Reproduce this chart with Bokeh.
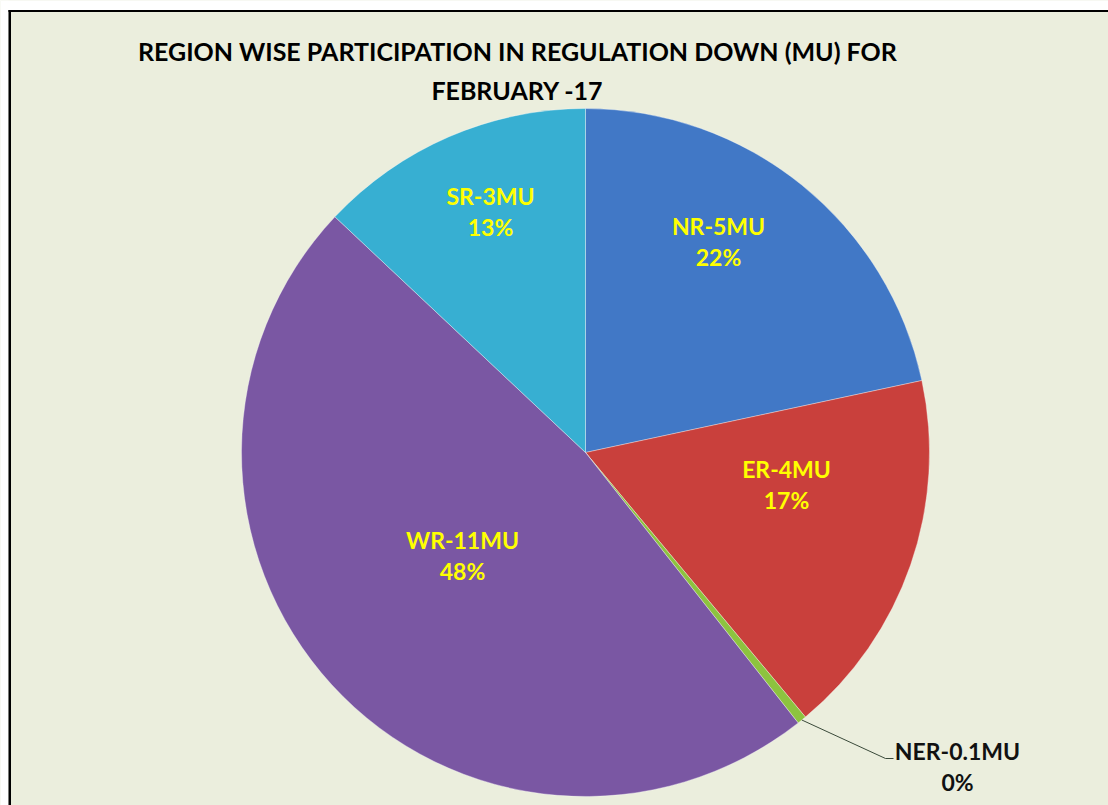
import numpy as np
from bokeh.plotting import figure
from bokeh.models import Range1d, BoxAnnotation, ColumnDataSource
from bokeh.core.properties import value
from bokeh.embed import file_html
from bokeh.resources import INLINE

# ---- data ----
regions = ["NR", "ER", "NER", "WR", "SR"]
mu_values = [5.0, 4.0, 0.1, 11.0, 3.0]
mu_labels = ["5", "4", "0.1", "11", "3"]
colors = ["#4178C6", "#C9403C", "#8DC33F", "#7A57A3", "#37AFD2"]
title_lines = ["REGION WISE PARTICIPATION IN REGULATION DOWN (MU) FOR", "FEBRUARY -17"]

# ---- layout ----
W, H = 1108, 805
BG = "#EBEEDD"
FONT = "Lato"
cx, cy, R = 585, H - 452, 344
# label placement (pixel offsets from pie centre) - layout only
label_dx = [133, 201, 372, -123, -95]
label_dy = [-212, 31, 313, 102, -242]

p = figure(width=W, height=H, output_backend="svg", toolbar_location=None,
           x_range=Range1d(0, W), y_range=Range1d(0, H), min_border=0)
p.axis.visible = False
p.grid.visible = False
p.outline_line_color = None
p.background_fill_color = BG
p.border_fill_color = BG

# white page strips outside the chart area, and the top/left frame lines
p.add_layout(BoxAnnotation(bottom=H - 9.5, fill_color="white", fill_alpha=1,
                           line_color=None, level="underlay"))
p.add_layout(BoxAnnotation(right=8, fill_color="white", fill_alpha=1,
                           line_color=None, level="underlay"))
p.add_layout(BoxAnnotation(left=8, top=H - 9.5, bottom=H - 11.5, fill_color="black",
                           fill_alpha=1, line_color=None, level="underlay"))
p.add_layout(BoxAnnotation(left=8, right=10.5, top=H - 9.5, fill_color="black",
                           fill_alpha=1, line_color=None, level="underlay"))

vals = np.array(mu_values)
frac = vals / vals.sum()
cum = np.concatenate([[0], np.cumsum(frac)])
start = np.pi / 2 - cum[:-1] * 2 * np.pi
end = np.pi / 2 - cum[1:] * 2 * np.pi
src = ColumnDataSource(dict(start=start, end=end, color=colors,
                            x=[cx] * len(vals), y=[cy] * len(vals)))
p.wedge(x="x", y="y", radius=R, start_angle="start", end_angle="end",
        direction="clock", fill_color="color", line_color="#FFFFFF",
        line_alpha=0.35, line_width=1, source=src)

pct = [f"{round(f * 100):d}%" for f in frac]
names = [f"{r}-{m}MU" for r, m in zip(regions, mu_labels)]
lx = [cx + d for d in label_dx]
ly = [cy - d for d in label_dy]
inside = [i for i in range(len(vals)) if regions[i] != "NER"]
outside = [i for i in range(len(vals)) if regions[i] == "NER"]

for idxs, col in ((inside, "#FFFF00"), (outside, "#111111")):
    p.text(x=[lx[i] for i in idxs], y=[ly[i] + 15 for i in idxs],
           text=[names[i] for i in idxs], text_font=value(FONT), text_font_style="bold",
           text_font_size="23px", text_color=col, text_align="center", text_baseline="middle")
    p.text(x=[lx[i] for i in idxs], y=[ly[i] - 16 for i in idxs],
           text=[pct[i] for i in idxs], text_font=value(FONT), text_font_style="bold",
           text_font_size="23px", text_color=col, text_align="center", text_baseline="middle")

# leader line for small slice
for i in outside:
    mid = (start[i] + end[i]) / 2
    ex, ey = cx + R * np.cos(mid), cy + R * np.sin(mid)
    p.line(x=[ex, lx[i] - 72, lx[i] - 64], y=[ey, ly[i] + 7, ly[i] + 7],
           line_color="#3a4a3a", line_width=1)

# title
p.text(x=[517, 517], y=[H - 50, H - 89], text=title_lines, text_font=value(FONT),
       text_font_style="bold", text_font_size="25px", text_color="black",
       text_align="center", text_baseline="middle")

open("out.html", "w").write(file_html(p, INLINE))
